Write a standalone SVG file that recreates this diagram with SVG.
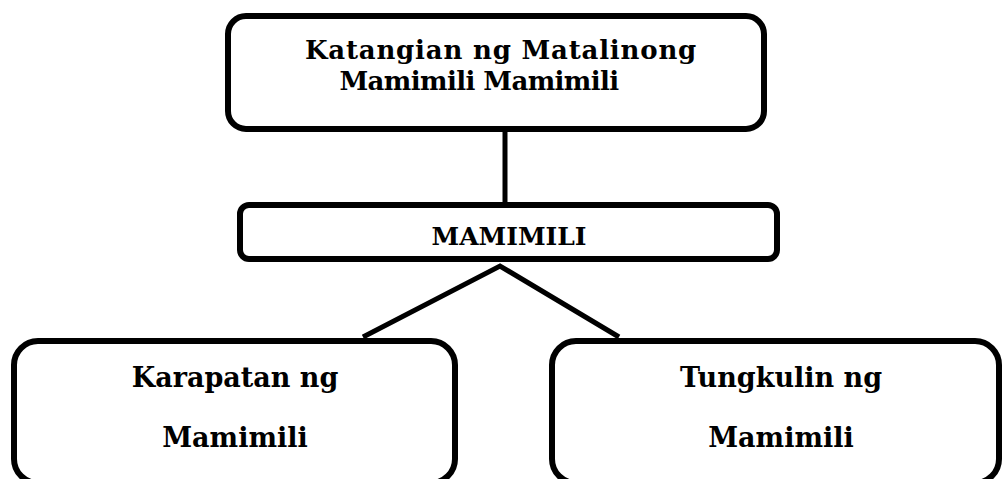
<svg xmlns="http://www.w3.org/2000/svg" width="1002" height="479" viewBox="0 0 1002 479">
<style>
.box{fill:#fff;stroke:#000;stroke-width:6}
.conn{fill:none;stroke:#000;stroke-width:5;stroke-linejoin:miter}
.t{font-family:"DejaVu Serif","Liberation Serif",serif;font-weight:bold;fill:#000;text-anchor:middle}
</style>
<rect width="1002" height="479" fill="#fff"/>
<g id="connectors">
<line class="conn" x1="505" y1="131" x2="505" y2="204"/>
<polyline class="conn" points="363,337 500,266 619,337"/>
</g>
<g id="node-top">
<rect class="box" x="228" y="16" width="536" height="113" rx="18"/>
<text class="t" x="501" y="59" font-size="26" letter-spacing="0.8">Katangian ng Matalinong</text>
<text class="t" x="479" y="90" font-size="26" letter-spacing="-0.6">Mamimili Mamimili</text>
</g>
<g id="node-mamimili">
<rect class="box" x="240" y="205" width="537" height="54" rx="9"/>
<text class="t" x="509" y="245" font-size="25">MAMIMILI</text>
</g>
<g id="node-karapatan">
<rect class="box" x="14" y="341" width="441" height="142" rx="24"/>
<text class="t" x="235" y="387" font-size="27">Karapatan ng</text>
<text class="t" x="235" y="447" font-size="27">Mamimili</text>
</g>
<g id="node-tungkulin">
<rect class="box" x="552" y="341" width="447" height="142" rx="24"/>
<text class="t" x="781" y="387" font-size="27">Tungkulin ng</text>
<text class="t" x="781" y="447" font-size="27">Mamimili</text>
</g>
</svg>
